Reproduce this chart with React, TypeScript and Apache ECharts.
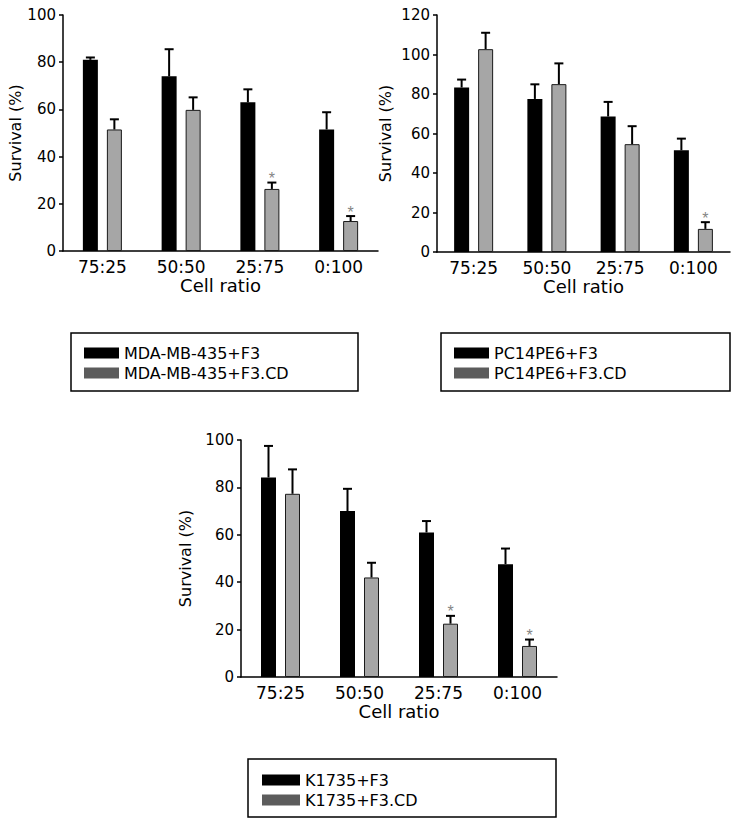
import React, { useEffect, useRef } from "react";
import * as echarts from "echarts";

const categories = ["75:25", "50:50", "25:75", "0:100"];

const mdaF3 = [81, 74, 63, 51.5];
const mdaF3Err = [1, 11.5, 5.5, 7.3];
const mdaCD = [51.5, 59.8, 26.3, 12.7];
const mdaCDErr = [4.3, 5.3, 2.7, 2.1];
const mdaCDStar = [false, false, true, true];

const pcF3 = [83.3, 77.5, 68.6, 51.5];
const pcF3Err = [4, 7.4, 7.4, 5.9];
const pcCD = [102.7, 85, 54.6, 11.7];
const pcCDErr = [8.3, 10.5, 9.1, 3.4];
const pcCDStar = [false, false, false, true];

const kF3 = [84.2, 70, 61, 47.6];
const kF3Err = [13.3, 9.4, 4.8, 6.6];
const kCD = [77.3, 42, 22.5, 13.1];
const kCDErr = [10.3, 6.2, 3.3, 2.7];
const kCDStar = [false, false, true, true];

const yMax = [100, 120, 100];
const noStars = [false, false, false, false];

const FONT = "'DejaVu Sans', 'Liberation Sans', Arial, sans-serif";
const STAR_FONT = "'Liberation Sans', Arial, sans-serif";
const BLACK = "#000000";
const GRAY = "#a6a6a6";
const LEGEND_GRAY = "#5c5c5c";

const BAR_W = 15;
const BAR_GAP = 9;
const OFFSET = (BAR_W + BAR_GAP) / 2;

function makeErr(g: number, vals: number[], errs: number[], stars: boolean[], offset: number) {
  return {
    type: "custom",
    xAxisIndex: g,
    yAxisIndex: g,
    silent: true,
    z: 5,
    data: vals.map((v, i) => [i, v, errs[i], stars[i] ? 1 : 0]),
    encode: { x: 0, y: 1 },
    renderItem: (params: any, api: any) => {
      const i = api.value(0);
      const v = api.value(1);
      const e = api.value(2);
      const s = api.value(3);
      const base = api.coord([i, v]);
      const top = api.coord([i, v + e]);
      const x = base[0] + offset;
      const children: any[] = [
        { type: "line", shape: { x1: x, y1: base[1], x2: x, y2: top[1] }, style: { stroke: "#000", lineWidth: 2 } },
        { type: "line", shape: { x1: x - 4.5, y1: top[1], x2: x + 4.5, y2: top[1] }, style: { stroke: "#000", lineWidth: 2 } },
      ];
      if (s) {
        children.push({
          type: "text",
          x: x,
          y: top[1] - 4,
          style: { text: "*", fill: "#858585", fontSize: 16, fontFamily: STAR_FONT, align: "center", verticalAlign: "middle" },
        });
      }
      return { type: "group", children };
    },
  };
}

function makeBar(g: number, name: string, vals: number[], color: string, border: boolean) {
  return {
    type: "bar",
    name,
    xAxisIndex: g,
    yAxisIndex: g,
    data: vals,
    barWidth: BAR_W,
    barGap: Math.round((BAR_GAP / BAR_W) * 100) + "%",
    itemStyle: { color, borderColor: "#1a1a1a", borderWidth: border ? 1 : 0 },
    z: 2,
  };
}

export default function App() {
  const ref = useRef<HTMLDivElement>(null);
  useEffect(() => {
    document.body.style.margin = "0";
    if (!ref.current) return;
    const chart = echarts.init(ref.current, undefined, { renderer: "svg" });

    const grids = [
      { left: 63, top: 15, width: 315, height: 236 },
      { left: 437, top: 15, width: 293, height: 237 },
      { left: 241, top: 440, width: 316, height: 237 },
    ];
    const yNameGaps = [40, 44, 48];

    const xAxes = grids.map((_, g) => ({
      type: "category",
      gridIndex: g,
      data: categories,
      axisLine: { show: true, lineStyle: { color: "#000", width: 1.5 } },
      axisTick: { show: false },
      axisLabel: { color: "#000", fontSize: 17, fontFamily: FONT, margin: 7 },
      name: "Cell ratio",
      nameLocation: "middle",
      nameGap: 25,
      nameTextStyle: { color: "#000", fontSize: 18, fontFamily: FONT },
    }));

    const yAxes = grids.map((_, g) => ({
      type: "value",
      gridIndex: g,
      min: 0,
      max: yMax[g],
      interval: 20,
      axisLine: { show: true, lineStyle: { color: "#000", width: 1.5 } },
      axisTick: { show: true, length: 4, lineStyle: { color: "#000", width: 1.5 } },
      splitLine: { show: false },
      axisLabel: { color: "#000", fontSize: 15, fontFamily: FONT, margin: 7 },
      name: "Survival (%)",
      nameLocation: "middle",
      nameGap: yNameGaps[g],
      nameTextStyle: { color: "#000", fontSize: 16, fontFamily: FONT },
    }));

    const legendCommon = {
      orient: "vertical",
      itemWidth: 35,
      itemHeight: 11,
      itemGap: 4,
      icon: "rect",
      padding: 0,
      selectedMode: false,
      textStyle: { color: "#000", fontSize: 16, fontFamily: FONT, lineHeight: 16 },
    };

    const option: any = {
      animation: false,
      backgroundColor: "#fff",
      grid: grids,
      xAxis: xAxes,
      yAxis: yAxes,
      legend: [
        {
          ...legendCommon,
          left: 84,
          top: 345,
          data: [
            { name: "MDA-MB-435+F3", itemStyle: { color: BLACK, borderWidth: 0 } },
            { name: "MDA-MB-435+F3.CD", itemStyle: { color: LEGEND_GRAY, borderWidth: 0 } },
          ],
        },
        {
          ...legendCommon,
          left: 454,
          top: 345,
          data: [
            { name: "PC14PE6+F3", itemStyle: { color: BLACK, borderWidth: 0 } },
            { name: "PC14PE6+F3.CD", itemStyle: { color: LEGEND_GRAY, borderWidth: 0 } },
          ],
        },
        {
          ...legendCommon,
          left: 262,
          top: 772,
          itemWidth: 38,
          data: [
            { name: "K1735+F3", itemStyle: { color: BLACK, borderWidth: 0 } },
            { name: "K1735+F3.CD", itemStyle: { color: LEGEND_GRAY, borderWidth: 0 } },
          ],
        },
      ],
      graphic: [
        { type: "rect", shape: { x: 71, y: 333, width: 287, height: 58 }, style: { fill: "none", stroke: "#000", lineWidth: 1.5 } },
        { type: "rect", shape: { x: 441, y: 333, width: 289, height: 58 }, style: { fill: "none", stroke: "#000", lineWidth: 1.5 } },
        { type: "rect", shape: { x: 248, y: 759, width: 308, height: 58 }, style: { fill: "none", stroke: "#000", lineWidth: 1.5 } },
      ],
      series: [
        makeBar(0, "MDA-MB-435+F3", mdaF3, BLACK, false),
        makeBar(0, "MDA-MB-435+F3.CD", mdaCD, GRAY, true),
        makeBar(1, "PC14PE6+F3", pcF3, BLACK, false),
        makeBar(1, "PC14PE6+F3.CD", pcCD, GRAY, true),
        makeBar(2, "K1735+F3", kF3, BLACK, false),
        makeBar(2, "K1735+F3.CD", kCD, GRAY, true),
        makeErr(0, mdaF3, mdaF3Err, noStars, -OFFSET),
        makeErr(0, mdaCD, mdaCDErr, mdaCDStar, OFFSET),
        makeErr(1, pcF3, pcF3Err, noStars, -OFFSET),
        makeErr(1, pcCD, pcCDErr, pcCDStar, OFFSET),
        makeErr(2, kF3, kF3Err, noStars, -OFFSET),
        makeErr(2, kCD, kCDErr, kCDStar, OFFSET),
      ],
    };
    chart.setOption(option);
    return () => chart.dispose();
  }, []);
  return <div ref={ref} style={{ width: 733, height: 824 }} />;
}
